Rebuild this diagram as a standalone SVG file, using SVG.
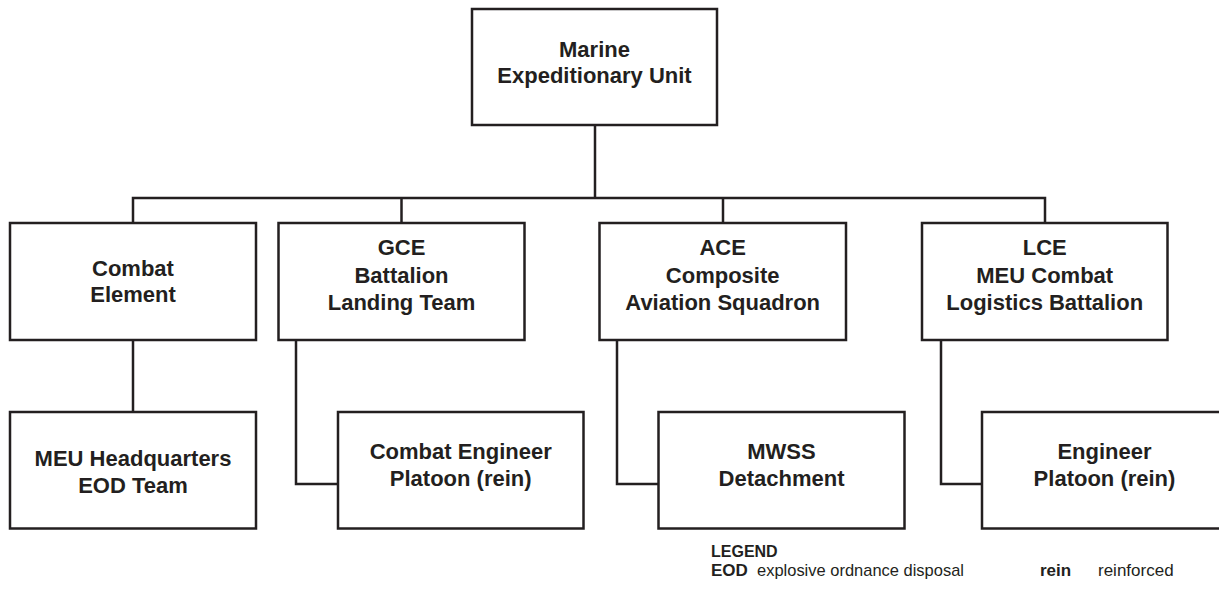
<svg xmlns="http://www.w3.org/2000/svg" width="1219" height="597" viewBox="0 0 1219 597">
  <style>
    .box { fill: #ffffff; stroke: #231f20; stroke-width: 2.5; }
    .wire { fill: none; stroke: #231f20; stroke-width: 2.5; }
    .lbl { font-family: "Liberation Sans", Arial, sans-serif; font-weight: bold; font-size: 22px; fill: #231f20; text-anchor: middle; }
    .lg { font-family: "Liberation Sans", Arial, sans-serif; font-size: 17px; fill: #231f20; }
    .lgb { font-weight: bold; }
    .lgh { font-weight: bold; font-size: 16px; }
  </style>
  <rect width="1219" height="597" fill="#ffffff"/>

  <!-- connectors -->
  <g id="connectors">
    <path class="wire" d="M595 125 V198"/>
    <path class="wire" d="M133 223 V198 H1045 V223"/>
    <path class="wire" d="M401.5 198 V223"/>
    <path class="wire" d="M723 198 V223"/>
    <path class="wire" d="M133 340 V412"/>
    <path class="wire" d="M296 340 V484 H338"/>
    <path class="wire" d="M617 340 V484 H658"/>
    <path class="wire" d="M941 340 V484 H982"/>
  </g>

  <!-- top -->
  <g id="meu">
    <rect class="box" x="472" y="9" width="245" height="116"/>
    <text class="lbl" x="594.5" y="57">Marine</text>
    <text class="lbl" x="594.5" y="83">Expeditionary Unit</text>
  </g>

  <!-- elements -->
  <g id="combat-element">
    <rect class="box" x="10" y="223" width="246" height="117"/>
    <text class="lbl" x="133" y="276">Combat</text>
    <text class="lbl" x="133" y="302">Element</text>
  </g>
  <g id="gce">
    <rect class="box" x="278.5" y="223" width="246" height="117"/>
    <text class="lbl" x="401.5" y="255">GCE</text>
    <text class="lbl" x="401.5" y="282.5">Battalion</text>
    <text class="lbl" x="401.5" y="309.5">Landing Team</text>
  </g>
  <g id="ace">
    <rect class="box" x="599.5" y="223" width="246.5" height="117"/>
    <text class="lbl" x="722.7" y="255">ACE</text>
    <text class="lbl" x="722.7" y="282.5">Composite</text>
    <text class="lbl" x="722.7" y="310">Aviation Squadron</text>
  </g>
  <g id="lce">
    <rect class="box" x="922" y="223" width="245.5" height="117"/>
    <text class="lbl" x="1044.7" y="255">LCE</text>
    <text class="lbl" x="1044.7" y="282.5">MEU Combat</text>
    <text class="lbl" x="1044.7" y="310">Logistics Battalion</text>
  </g>

  <!-- subordinate units -->
  <g id="hq-eod">
    <rect class="box" x="10" y="412" width="246" height="116.5"/>
    <text class="lbl" x="133" y="466">MEU Headquarters</text>
    <text class="lbl" x="133" y="493">EOD Team</text>
  </g>
  <g id="combat-engineer">
    <rect class="box" x="338" y="412" width="245.5" height="116.5"/>
    <text class="lbl" x="460.7" y="459">Combat Engineer</text>
    <text class="lbl" x="460.7" y="486">Platoon (rein)</text>
  </g>
  <g id="mwss">
    <rect class="box" x="658.5" y="412" width="246" height="116.5"/>
    <text class="lbl" x="781.5" y="459">MWSS</text>
    <text class="lbl" x="781.5" y="486">Detachment</text>
  </g>
  <g id="engineer-platoon">
    <rect class="box" x="982" y="412" width="246" height="116.5"/>
    <text class="lbl" x="1104.5" y="459">Engineer</text>
    <text class="lbl" x="1104.5" y="486">Platoon (rein)</text>
  </g>

  <!-- legend -->
  <g id="legend">
    <text class="lg lgh" x="711" y="556.5">LEGEND</text>
    <text class="lg lgb" x="711" y="576">EOD</text>
    <text class="lg" x="757" y="576" textLength="207" lengthAdjust="spacingAndGlyphs">explosive ordnance disposal</text>
    <text class="lg lgb" x="1040" y="576">rein</text>
    <text class="lg" x="1098" y="576">reinforced</text>
  </g>
</svg>
